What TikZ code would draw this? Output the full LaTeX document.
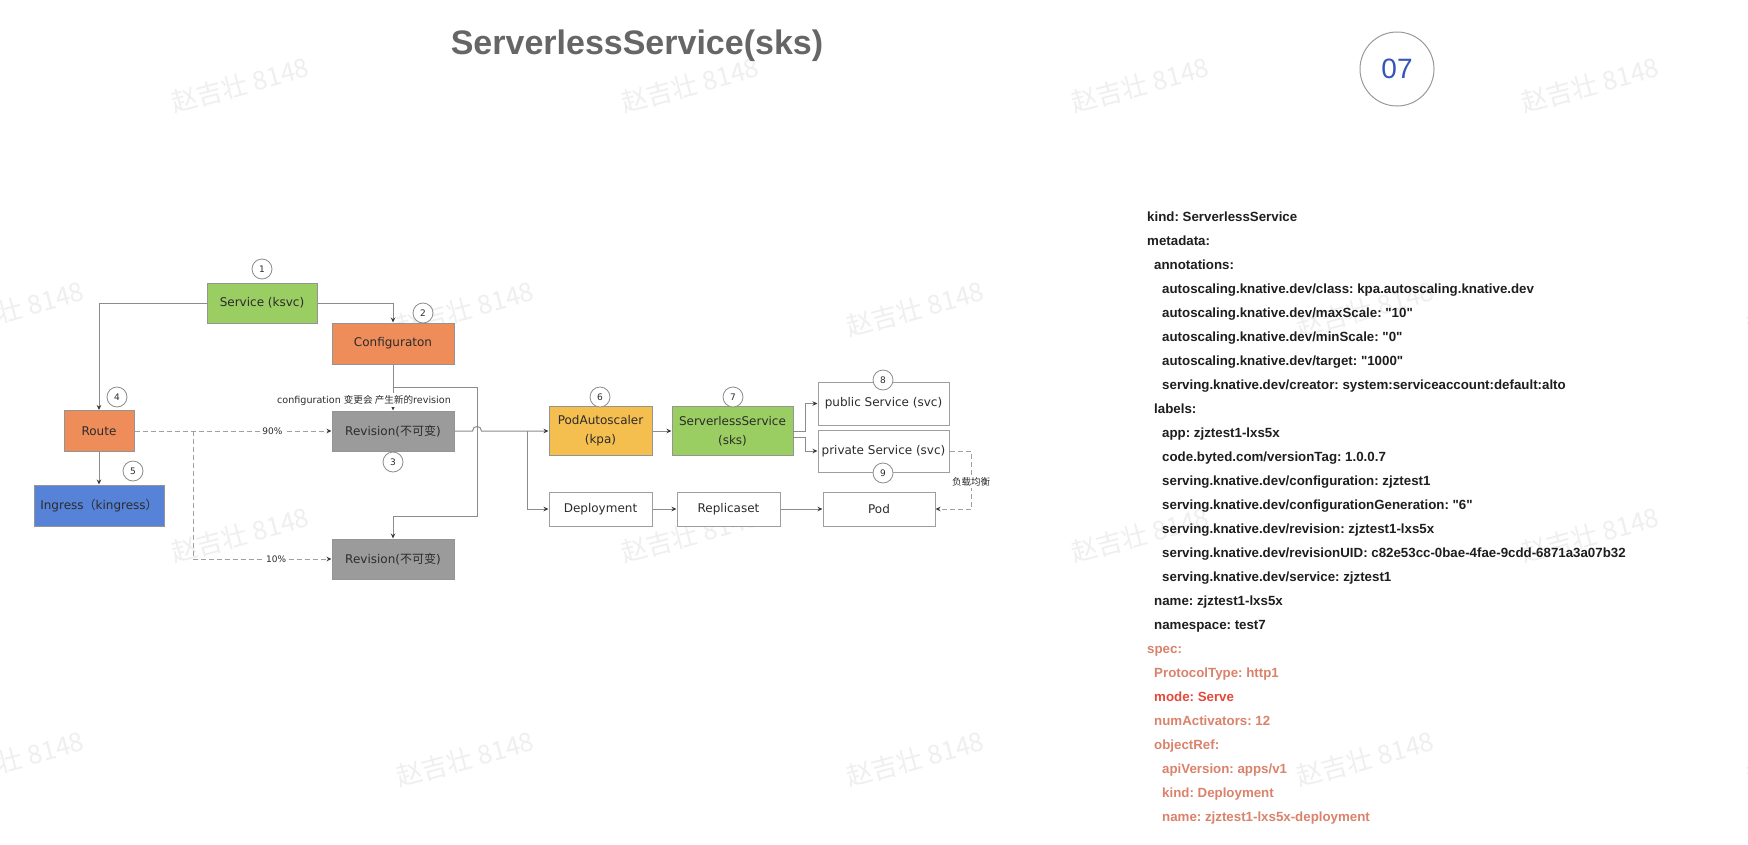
\documentclass[tikz,border=0pt]{standalone}
\usepackage{fontspec}
\setmainfont{DejaVu Sans}
\newfontfamily\arialf{Liberation Sans}
\newfontfamily\cjk{Noto Sans CJK SC}
\usetikzlibrary{arrows.meta,calc}
\definecolor{gfill}{HTML}{9ACD62}
\definecolor{ofill}{HTML}{EE8D5A}
\definecolor{bfill}{HTML}{5683D8}
\definecolor{rfill}{HTML}{9B9B9B}
\definecolor{yfill}{HTML}{F4BF4F}
\definecolor{txt}{HTML}{2B2B2B}
\definecolor{linegray}{HTML}{8C8C8C}
\definecolor{tipgray}{HTML}{3A3A3A}
\definecolor{dashgray}{HTML}{A0A0A0}
\definecolor{titlegray}{HTML}{666666}
\definecolor{badgeblue}{HTML}{3556B8}
\definecolor{yamlblack}{HTML}{1E1E1E}
\definecolor{yamlspec}{HTML}{DA826B}
\definecolor{yamlred}{HTML}{E5493A}
\definecolor{wmgray}{HTML}{EFEFEF}
\begin{document}
\frenchspacing
\begin{tikzpicture}[x=1pt,y=-1pt,
  every node/.style={inner sep=0pt},
  base/.style={rectangle, align=center, text=txt, line width=1pt,
    font=\fontsize{12}{19}\selectfont},
  fbox/.style={base, fill=#1, draw=black!42},
  wbox/.style={base, fill=white, draw=black!38},
  num/.style={circle, draw=black!45, fill=white, line width=0.8pt,
    minimum size=20pt, text=txt, font=\fontsize{9}{9}\selectfont},
  line/.style={draw=linegray, line width=1pt},
  conn/.style={line, -{Stealth[length=5pt,width=4.5pt,color=tipgray]}},
  dashconn/.style={draw=dashgray, line width=1pt, dash pattern=on 5pt off 3pt,
    -{Stealth[length=5pt,width=4.5pt,color=tipgray]}},
  lbl/.style={fill=white, inner sep=1.5pt, text=txt, font=\fontsize{9}{9}\selectfont},
  yaml/.style={anchor=base west, text=yamlblack,
    font=\arialf\bfseries\fontsize{13.3}{13.3}\selectfont\frenchspacing},
  wm/.style={text=wmgray, rotate=15, font=\cjk\fontsize{26}{26}\selectfont}]
\useasboundingbox[fill=white] (0,0) rectangle (1748,844);

% watermarks
\foreach \wx/\wy [count=\k] in {240/85,690/85,1140/85,1590/85,
  15/309,465/309,915/309,1365/309,1815/309,
  240/535,690/535,1140/535,1590/535,
  15/759,465/759,915/759,1365/759,1815/759}
  \node[wm] (wm\k) at (\wx,\wy) {赵吉壮 8148};

% title and badge
\node[anchor=base, text=titlegray, font=\arialf\bfseries\fontsize{34}{34}\selectfont]
  (title) at (637,54) {ServerlessService(sks)};
\node[circle, draw=black!40, line width=1pt, minimum size=74pt, text=badgeblue,
  font=\arialf\fontsize{28}{28}\selectfont] (badge) at (1397,69) {07};

% boxes
\node[fbox=gfill, minimum width=110pt, minimum height=40pt] (svc) at (262,303) {Service (ksvc)};
\node[fbox=ofill, minimum width=122pt, minimum height=41pt] (cfg) at (393,343.5) {Configuraton};
\node[fbox=ofill, minimum width=70pt, minimum height=41pt] (route) at (99,431) {Route};
\node[fbox=bfill, minimum width=130pt, minimum height=41pt] (ing) at (99,505.5) {Ingress{\cjk （}kingress{\cjk ）}};
\node[fbox=rfill, minimum width=122pt, minimum height=40pt] (rev1) at (393,431) {Revision({\cjk 不可变})};
\node[fbox=rfill, minimum width=122pt, minimum height=40pt] (rev2) at (393,559) {Revision({\cjk 不可变})};
\node[fbox=yfill, minimum width=103pt, minimum height=49pt] (pa) at (600.5,431) {PodAutoscaler\\(kpa)};
\node[fbox=gfill, minimum width=121pt, minimum height=49pt] (sks) at (732.5,431) {ServerlessService\\(sks)};
\node[wbox, minimum width=131pt, minimum height=43pt] (pub) at (883.5,403.5) {public Service (svc)};
\node[wbox, minimum width=131pt, minimum height=42pt] (priv) at (883.5,451) {private Service (svc)};
\node[wbox, minimum width=103pt, minimum height=34pt] (dep) at (600.5,509) {Deployment};
\node[wbox, minimum width=103pt, minimum height=34pt] (rs) at (728.5,509) {Replicaset};
\node[wbox, minimum width=112pt, minimum height=34pt] (pod) at (879,509) {Pod};

% helper coordinates
\coordinate (cfgsplit) at (393,387);
\coordinate (loopTR) at (477,387);
\coordinate (loopBR) at (477,516);
\coordinate (loopBL) at (393,516);
\coordinate (hopL) at (472.5,431);
\coordinate (hopR) at (481.5,431);
\coordinate (split) at (527,431);
\coordinate (sksA) at (793,431);
\coordinate (sksB) at (793,437);
\coordinate (sksAk) at (805,431);
\coordinate (sksBk) at (805,437);
\coordinate (lbk) at (971,451);
\coordinate (rsplit) at (193,431);

% solid connectors
\draw[conn] (svc.west) -| (route.north);
\draw[conn] (svc.east) -| (cfg.north);
\draw[conn] (cfg.south) -- (rev1.north);
\draw[conn] (cfgsplit) -- (loopTR) -- (loopBR) -- (loopBL) -- (rev2.north);
\draw[conn] (rev1.east) -- (hopL) .. controls ($(hopL)+(0,-6)$) and ($(hopR)+(0,-6)$) .. (hopR) -- (pa.west);
\draw[conn] (split) |- (dep.west);
\draw[conn] (pa.east) -- (sks.west);
\draw[conn] (sksA) -- (sksAk) |- (pub.west);
\draw[conn] (sksB) -- (sksBk) |- (priv.west);
\draw[conn] (dep.east) -- (rs.west);
\draw[conn] (rs.east) -- (pod.west);
\draw[conn] (route.south) -- (ing.north);

% dashed connectors
\draw[dashconn] (route.east) -- (rev1.west) node[lbl, pos=0.7] (l90) {90\%};
\draw[dashconn] (rsplit) |- (rev2.west) node[lbl, pos=0.8] (l10) {10\%};
\draw[dashconn] (priv.east) -- (lbk) |- (pod.east);
\node[lbl, font=\cjk\fontsize{9.5}{9.5}\selectfont] (lblb) at (971,482) {负载均衡};

% config label
\node[lbl, font=\fontsize{9.6}{9.6}\selectfont] (cfglbl) at (364,400)
  {configuration {\cjk 变更会 产生新的}revision};

% number circles
\node[num] (n1) at (262,269) {1};
\node[num] (n2) at (423,313) {2};
\node[num] (n3) at (393,462) {3};
\node[num] (n4) at (117,397) {4};
\node[num] (n5) at (133,471) {5};
\node[num] (n6) at (600,397) {6};
\node[num] (n7) at (733,397) {7};
\node[num] (n8) at (883,380) {8};
\node[num] (n9) at (883,473) {9};

% yaml text
\node[yaml] (y0) at (1147,221.5) {kind: ServerlessService};
\node[yaml] (y1) at (1147,245.5) {metadata:};
\node[yaml] (y2) at (1154,269.5) {annotations:};
\node[yaml] (y3) at (1162,293.5) {autoscaling.knative.dev/class: kpa.autoscaling.knative.dev};
\node[yaml] (y4) at (1162,317.5) {autoscaling.knative.dev/maxScale: "10"};
\node[yaml] (y5) at (1162,341.5) {autoscaling.knative.dev/minScale: "0"};
\node[yaml] (y6) at (1162,365.5) {autoscaling.knative.dev/target: "1000"};
\node[yaml] (y7) at (1162,389.5) {serving.knative.dev/creator: system:serviceaccount:default:alto};
\node[yaml] (y8) at (1154,413.5) {labels:};
\node[yaml] (y9) at (1162,437.5) {app: zjztest1-lxs5x};
\node[yaml] (y10) at (1162,461.5) {code.byted.com/versionTag: 1.0.0.7};
\node[yaml] (y11) at (1162,485.5) {serving.knative.dev/configuration: zjztest1};
\node[yaml] (y12) at (1162,509.5) {serving.knative.dev/configurationGeneration: "6"};
\node[yaml] (y13) at (1162,533.5) {serving.knative.dev/revision: zjztest1-lxs5x};
\node[yaml] (y14) at (1162,557.5) {serving.knative.dev/revisionUID: c82e53cc-0bae-4fae-9cdd-6871a3a07b32};
\node[yaml] (y15) at (1162,581.5) {serving.knative.dev/service: zjztest1};
\node[yaml] (y16) at (1154,605.5) {name: zjztest1-lxs5x};
\node[yaml] (y17) at (1154,629.5) {namespace: test7};
\node[yaml, text=yamlspec] (y18) at (1147,653.5) {spec:};
\node[yaml, text=yamlspec] (y19) at (1154,677.5) {ProtocolType: http1};
\node[yaml, text=yamlred] (y20) at (1154,701.5) {mode: Serve};
\node[yaml, text=yamlspec] (y21) at (1154,725.5) {numActivators: 12};
\node[yaml, text=yamlspec] (y22) at (1154,749.5) {objectRef:};
\node[yaml, text=yamlspec] (y23) at (1162,773.5) {apiVersion: apps/v1};
\node[yaml, text=yamlspec] (y24) at (1162,797.5) {kind: Deployment};
\node[yaml, text=yamlspec] (y25) at (1162,821.5) {name: zjztest1-lxs5x-deployment};
\end{tikzpicture}
\end{document}
